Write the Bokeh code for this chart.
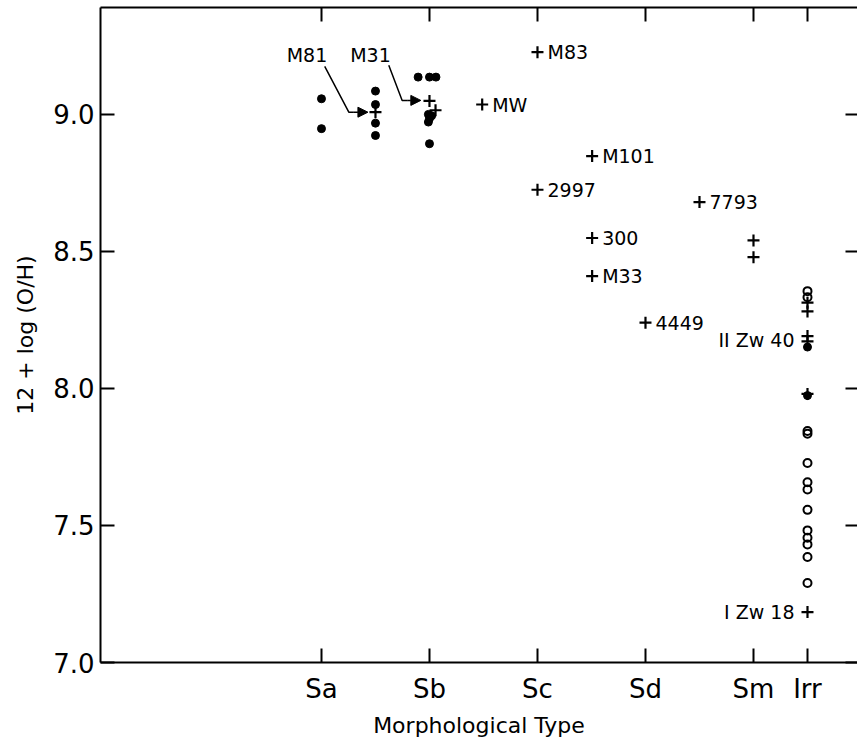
from bokeh.plotting import figure
from bokeh.models import Range1d, LinearAxis, FixedTicker, Arrow, NormalHead
from bokeh.core.properties import value
from bokeh.embed import file_html
from bokeh.resources import INLINE

# ---- categories (numeric positions of morphological types) ----
type_names = ["Sa", "Sb", "Sc", "Sd", "Sm", "Irr"]
type_pos = [1, 2, 3, 4, 5, 5.5]
y_ticks = [7.0, 7.5, 8.0, 8.5, 9.0]
y_tick_labels = ["7.0", "7.5", "8.0", "8.5", "9.0"]

# ---- filled dots ----
dot_x = [1, 1, 1.5, 1.5, 1.5, 1.5, 1.895, 2.0, 2.06, 1.99, 2.0, 2.02, 1.99, 2.0, 5.5, 5.5]
dot_y = [9.057, 8.948, 9.085, 9.036, 8.968, 8.923, 9.136, 9.136, 9.136,
         9.0, 8.985, 8.995, 8.972, 8.893, 8.151, 7.974]

# ---- crosses ----
cross_x = [1.5, 2.0, 2.056, 2.488, 3.0, 3.506, 3.0, 4.5, 3.506, 5.0, 5.0, 3.506, 4.0,
           5.5, 5.5, 5.5, 5.5, 5.5, 5.5]
cross_y = [9.008, 9.049, 9.015, 9.036, 9.227, 8.848, 8.725, 8.68, 8.549, 8.54, 8.479, 8.41, 8.24,
           8.313, 8.281, 8.191, 8.172, 7.98, 7.184]

# ---- open circles (Irr) ----
ring_x = [5.5] * 13
ring_y = [8.355, 8.333, 7.845, 7.835, 7.728, 7.658, 7.631, 7.557, 7.482, 7.455, 7.431, 7.385, 7.29]

# ---- labels placed right of a cross ----
rlab_x = [2.488, 3.0, 3.506, 3.0, 4.5, 3.506, 3.506, 4.0]
rlab_y = [9.036, 9.227, 8.848, 8.725, 8.68, 8.549, 8.41, 8.24]
rlab_t = ["MW", "M83", "M101", "2997", "7793", "300", "M33", "4449"]

# ---- labels placed left of a cross ----
llab_x = [5.5, 5.5]
llab_y = [8.175, 7.184]
llab_t = ["II Zw 40", "I Zw 18"]

# ---- leader labels with arrows ----
lead_t = ["M81", "M31"]
lead_tx = [0.866, 1.454]
lead_ty = [9.215, 9.215]
lead_xs = [[1.03, 1.253, 1.30], [1.623, 1.747, 1.80]]
lead_ys = [[9.175, 9.008, 9.008], [9.179, 9.051, 9.051]]
arrow_x0 = [1.30, 1.80]
arrow_x1 = [1.43, 1.92]
arrow_y = [9.008, 9.051]

FONT = "DejaVu Sans"

p = figure(width=857, height=747,
           x_range=Range1d(-1.046, 5.963), y_range=Range1d(7.0, 9.39),
           output_backend="svg", toolbar_location=None,
           min_border_left=100, min_border_right=0,
           min_border_top=7, min_border_bottom=85)
p.grid.visible = False
p.outline_line_color = None
p.background_fill_color = "white"
p.border_fill_color = "white"

xa = p.xaxis[0]
xa.ticker = FixedTicker(ticks=type_pos)
xa.major_label_overrides = {t: n for t, n in zip(type_pos, type_names)}
xa.axis_label = "Morphological Type"

ya = p.yaxis[0]
ya.ticker = FixedTicker(ticks=y_ticks)
ya.major_label_overrides = {t: s for t, s in zip(y_ticks, y_tick_labels)}
ya.axis_label = "12 + log (O/H)"

for ax in (xa, ya):
    ax.major_tick_in = 14
    ax.major_tick_out = 0
    ax.minor_tick_line_color = None
    ax.axis_line_width = 2
    ax.major_tick_line_width = 2
    ax.major_label_text_font = FONT
    ax.major_label_text_font_size = "26px"
    ax.major_label_text_color = "black"
    ax.axis_label_text_font = FONT
    ax.axis_label_text_font_size = "22px"
    ax.axis_label_text_font_style = "normal"
    ax.axis_label_text_color = "black"
xa.major_label_standoff = 11
xa.axis_label_standoff = 6
ya.major_label_standoff = 6
ya.axis_label_standoff = 12

top = LinearAxis(ticker=FixedTicker(ticks=type_pos),
                 major_label_overrides={t: "" for t in type_pos},
                 major_tick_in=14, major_tick_out=0, axis_line_width=2,
                 major_tick_line_width=2, minor_tick_line_color=None,
                 major_label_standoff=0, major_label_text_font_size="1px")
p.add_layout(top, "above")
right = LinearAxis(ticker=FixedTicker(ticks=y_ticks),
                   major_label_overrides={t: "" for t in y_ticks},
                   major_tick_in=12, major_tick_out=0, axis_line_color=None,
                   major_tick_line_width=2, minor_tick_line_color=None,
                   major_label_standoff=0, major_label_text_font_size="1px")
p.add_layout(right, "right")

p.scatter(dot_x, dot_y, marker="circle", size=8, fill_color="black", line_color="black")
p.scatter(ring_x, ring_y, marker="circle", size=8, fill_color=None, line_color="black", line_width=2)
p.scatter(cross_x, cross_y, marker="cross", size=12, line_color="black", line_width=2.2)

p.text(rlab_x, rlab_y, text=rlab_t, x_offset=10, text_align="left", text_baseline="middle",
       text_font=value(FONT), text_font_size="19px", text_color="black")
p.text(llab_x, llab_y, text=llab_t, x_offset=-13, text_align="right", text_baseline="middle",
       text_font=value(FONT), text_font_size="19px", text_color="black")
p.text(lead_tx, lead_ty, text=lead_t, text_align="center", text_baseline="middle",
       text_font=value(FONT), text_font_size="19px", text_color="black")
p.multi_line(lead_xs, lead_ys, line_color="black", line_width=1.5)
for x0, x1, yy in zip(arrow_x0, arrow_x1, arrow_y):
    p.add_layout(Arrow(end=NormalHead(size=10, fill_color="black", line_color="black"),
                       x_start=x0, y_start=yy, x_end=x1, y_end=yy,
                       line_color="black", line_width=1.5))

open("out.html", "w").write(file_html(p, INLINE))
